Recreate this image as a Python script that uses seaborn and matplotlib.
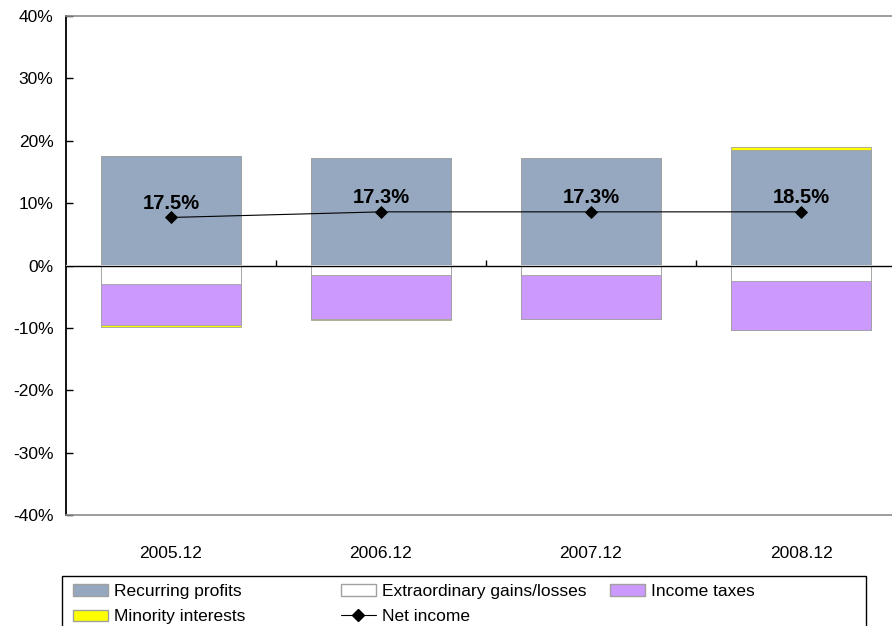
import numpy as np
import pandas as pd
import matplotlib
matplotlib.use("Agg")
import matplotlib.pyplot as plt
from matplotlib.patches import Patch, Rectangle
from matplotlib.lines import Line2D
from matplotlib.ticker import FuncFormatter
import seaborn as sns

# Profit breakdown as % of sales
periods = ["2005.12", "2006.12", "2007.12", "2008.12"]
recurring_profits = [17.5, 17.3, 17.3, 18.5]
extraordinary = [-2.9, -1.6, -1.6, -2.5]
income_taxes = [-6.6, -7.0, -7.0, -7.9]
minority_interests = [-0.3, -0.1, 0.0, 0.45]
net_income = [7.7, 8.6, 8.6, 8.6]

y_ticks = [-40, -30, -20, -10, 0, 10, 20, 30, 40]

c_recurring = "#95A8C0"
c_extra = "#FFFFFF"
c_tax = "#CC99FF"
c_minority = "#FFFF00"
c_edge = "#A0A0A0"

sns.set_style("white")
plt.rcParams["font.family"] = ["Liberation Sans", "DejaVu Sans"]
plt.rcParams.update({"text.color": "black", "axes.labelcolor": "black",
                     "xtick.color": "black", "ytick.color": "black"})

fig = plt.figure(figsize=(8.92, 6.26), dpi=100)
ax = fig.add_axes([66 / 892, 1 - 515 / 626, 840 / 892, 499 / 626])

df = pd.DataFrame({
    "period": periods,
    "recurring": recurring_profits,
    "extra": extraordinary,
    "tax": income_taxes,
    "minority": minority_interests,
})
pos_min = df["minority"].clip(lower=0)
neg_min = df["minority"].clip(upper=0)

# stacked layers, outermost extent first so inner segments paint over it
layers = [
    (df["recurring"] + pos_min, c_minority),
    (df["recurring"], c_recurring),
    (df["extra"] + df["tax"] + neg_min, c_minority),
    (df["extra"] + df["tax"], c_tax),
    (df["extra"], c_extra),
]
bar_w = 0.67
for heights, col in layers:
    sns.barplot(x=df["period"], y=heights, color=col, width=bar_w,
                edgecolor=c_edge, linewidth=0.6, saturation=1, ax=ax)

sns.pointplot(x=periods, y=net_income, color="black", markers="D",
              markersize=6.5, linewidth=0.8, errorbar=None, ax=ax)

for i, (n, r) in enumerate(zip(net_income, recurring_profits)):
    ax.annotate(f"{r:.1f}%", xy=(i, n), xytext=(0, 10), textcoords="offset points",
                ha="center", va="center", fontsize=14.5, fontweight="bold",
                color="black", zorder=6)

ax.set_xlim(-0.5, len(periods) - 0.5)
ax.set_ylim(y_ticks[0], y_ticks[-1])
ax.set_yticks(y_ticks)
ax.yaxis.set_major_formatter(FuncFormatter(lambda v, _: f"{v:.0f}%"))
ax.set_xlabel("")
ax.set_ylabel("")
ax.tick_params(axis="y", direction="in", length=5, width=1, pad=9,
               labelsize=12.5, left=True, color="black", labelcolor="black")
ax.tick_params(axis="x", length=0, pad=22, labelsize=12.5, labelcolor="black")

for s in ["top", "bottom", "right"]:
    ax.spines[s].set_color("#8C8C8C")
    ax.spines[s].set_linewidth(1.2)
ax.spines["left"].set_color("black")
ax.spines["left"].set_linewidth(1.3)

# category axis along the zero line, ticks between categories
zero_axis = ax.secondary_xaxis(0, transform=ax.transData)
zero_axis.set_xticks(np.arange(len(periods) - 1) + 0.5, labels=[])
zero_axis.tick_params(direction="in", length=4, width=1, color="black")
zero_axis.spines["bottom"].set_color("black")
zero_axis.spines["bottom"].set_linewidth(1)
zero_axis.set_zorder(5)

# legend: frame plus three columns
fig.patches.append(Rectangle((62 / 892, -0.05), (866 - 62) / 892, 1 - 576 / 626 + 0.05,
                             transform=fig.transFigure, fill=False,
                             edgecolor="black", linewidth=1))
h_rec = Patch(facecolor=c_recurring, edgecolor=c_edge)
h_ext = Patch(facecolor=c_extra, edgecolor=c_edge)
h_tax = Patch(facecolor=c_tax, edgecolor=c_edge)
h_min = Patch(facecolor=c_minority, edgecolor=c_edge)
h_net = Line2D([], [], color="black", marker="D", markersize=6.5, linewidth=0.8)

columns = [
    (73, [h_rec, h_min], ["Recurring profits", "Minority interests"]),
    (341, [h_ext, h_net], ["Extraordinary gains/losses", "Net income"]),
    (610, [h_tax], ["Income taxes"]),
]
for x0, hs, ls in columns:
    fig.legend(hs, ls, loc="upper left", bbox_to_anchor=(x0 / 892, 1 - 584 / 626),
               frameon=False, borderpad=0, borderaxespad=0, handlelength=2.0,
               handleheight=0.65, handletextpad=0.35, labelspacing=0.6,
               fontsize=12.5, labelcolor="black")

fig.savefig("out.png", dpi=100)
